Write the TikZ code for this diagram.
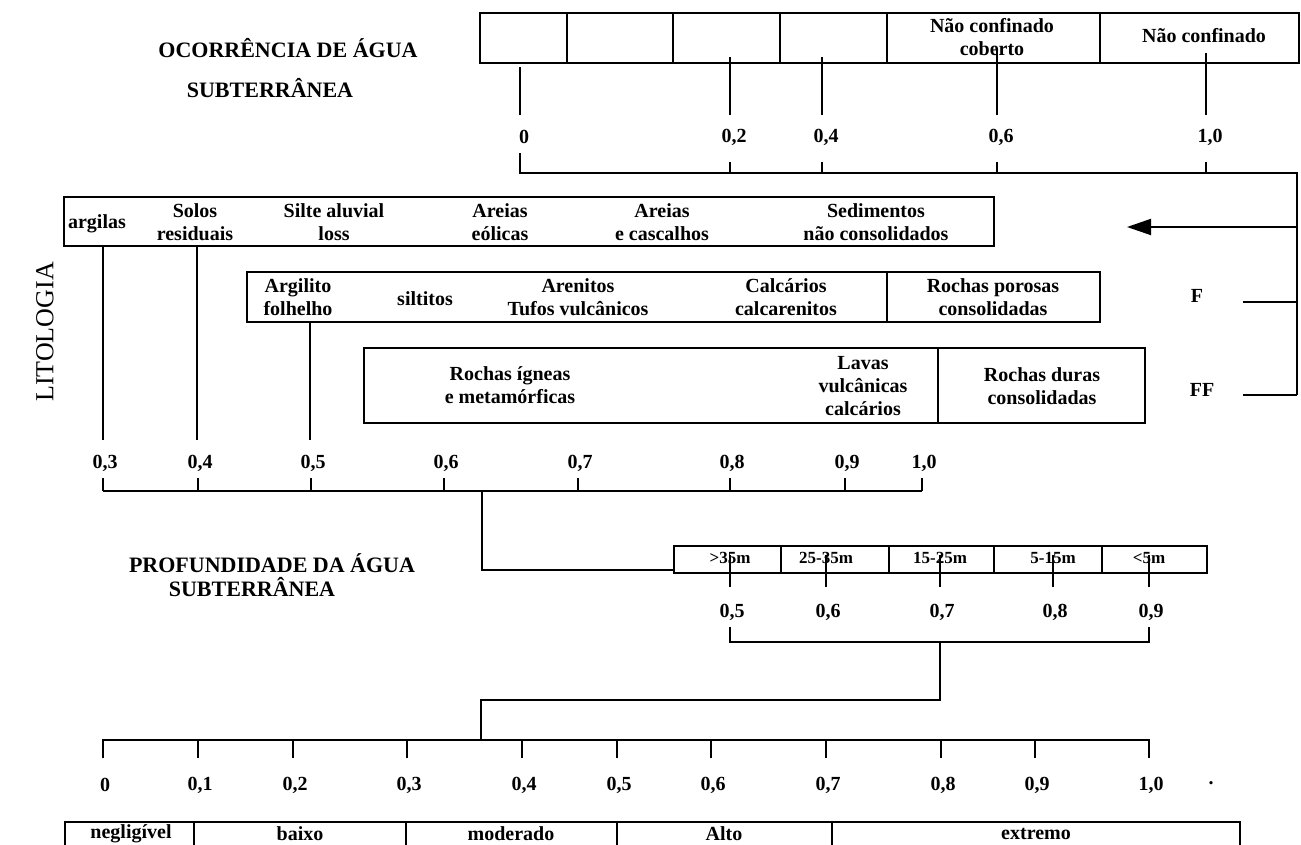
\documentclass[tikz,border=0pt]{standalone}
\usepackage{fontspec}
\setmainfont{Liberation Serif}
\usetikzlibrary{arrows.meta, positioning, calc}

\begin{document}
\begin{tikzpicture}[
    x=1pt, y=-1pt,
    >={Triangle[length=24pt, width=16pt]},
    lbl/.style={font=\fontsize{20}{23}\selectfont\bfseries, align=center, inner sep=0pt},
    tiny/.style={font=\fontsize{17}{19}\selectfont\bfseries, inner sep=0pt},
    headline/.style={font=\fontsize{22}{26}\selectfont\bfseries, inner sep=0pt},
    bar/.style={draw, line width=1.3pt, inner sep=0pt},
    rule/.style={line width=1.3pt},
    scl/.style={line width=1.9pt},
]
    \useasboundingbox (0,0) rectangle (1301,844);
    \clip (0,0) rectangle (1301,844);

    % Ocorrencia
    \node[headline] (occa) at (288,48) {OCORRÊNCIA DE ÁGUA};
    \node[headline] (occb) at (270,88) {SUBTERRÂNEA};
    \node[bar, minimum width=819pt, minimum height=50pt] (occbox) at (889.5,38) {};
    \foreach \x in {567,673,780,887,1100}
        \draw[rule] (\x,13) -- (\x,63);
    \node[lbl] (occnc) at (992,37) {Não confinado\\coberto};
    \node[lbl] (occn) at (1204,36) {Não confinado};
    \foreach \x/\t/\v in {520/67/0, 730/57/{0,2}, 822/57/{0,4}, 997/50/{0,6}, 1206/53/{1,0}} {
        \draw[scl] (\x,\t) -- (\x,115);
        \node[lbl] (occv\x) at (\x+4,137) {\v};
    }
    \draw[scl] (520,153) -- (520,173) -- (1297,173) -- (1297,395);
    \foreach \x in {730,822,997,1206}
        \draw[scl] (\x,162) -- (\x,173);

    % Right rail
    \coordinate (arrtip) at (1127,227);
    \draw[->, scl] (1297,227) -- (arrtip);
    \node[lbl] (fnode) at (1197,296) {F};
    \node[lbl] (ffnode) at (1202,390) {FF};
    \draw[scl] (1243,302) -- (1297,302);
    \draw[scl] (1243,395) -- (1297,395);

    % Litologia
    \node[font=\fontsize{26}{30}\selectfont, rotate=90, inner sep=0pt] (lito) at (45,332) {LITOLOGIA};

    \node[bar, minimum width=930pt, minimum height=49pt] (litoa) at (529,221.5) {};
    \node[lbl] (argilas) at (97,224) {argilas};
    \node[lbl] (solos) at (195,222) {Solos\\residuais};
    \node[lbl] (silte) at (334,222) {Silte aluvial\\loss};
    \node[lbl] (eolicas) at (500,222) {Areias\\eólicas};
    \node[lbl] (cascalhos) at (662,222) {Areias\\e cascalhos};
    \node[lbl] (sedim) at (876,222) {Sedimentos\\não consolidados};

    \node[bar, minimum width=853pt, minimum height=50pt] (litob) at (673.5,297) {};
    \draw[rule] (887,272) -- (887,322);
    \node[lbl] (argilito) at (298,297) {Argilito\\folhelho};
    \node[lbl] (siltitos) at (425,299) {siltitos};
    \node[lbl] (arenitos) at (578,297) {Arenitos\\Tufos vulcânicos};
    \node[lbl] (calcarios) at (786,297) {Calcários\\calcarenitos};
    \node[lbl] (porosas) at (993,297) {Rochas porosas\\consolidadas};

    \node[bar, minimum width=781pt, minimum height=75pt] (litoc) at (754.5,385.5) {};
    \draw[rule] (938,348) -- (938,423);
    \node[lbl] (igneas) at (510,385) {Rochas ígneas\\e metamórficas};
    \node[lbl] (lavas) at (863,386) {Lavas\\vulcânicas\\calcários};
    \node[lbl] (duras) at (1042,386) {Rochas duras\\consolidadas};

    \draw[scl] (103,246) -- (103,440);
    \draw[scl] (197,246) -- (197,440);
    \draw[scl] (310,322) -- (310,440);
    \foreach \x/\v in {103/{0,3}, 198/{0,4}, 311/{0,5}, 444/{0,6}, 578/{0,7}, 730/{0,8}, 845/{0,9}, 922/{1,0}} {
        \node[lbl] (litv\x) at (\x+2,463) {\v};
        \draw[scl] (\x,478) -- (\x,491);
    }
    \draw[scl] (103,491) -- (922,491);

    % Profundidade
    \node[headline] (profa) at (272,563) {PROFUNDIDADE DA ÁGUA};
    \node[headline] (profb) at (252,587) {SUBTERRÂNEA};
    \node[bar, minimum width=533pt, minimum height=27pt] (depth) at (940.5,559.5) {};
    \foreach \x in {781,889,994,1102}
        \draw[rule] (\x,546) -- (\x,573);
    \draw[scl] (482,491) -- (482,570) -- (674,570);
    \foreach \x/\r/\v in {730/{>35m}/{0,5}, 826/{25-35m}/{0,6}, 940/{15-25m}/{0,7}, 1053/{5-15m}/{0,8}, 1149/{<5m}/{0,9}} {
        \node[tiny] (dpr\x) at (\x,558) {\r};
        \draw[scl] (\x,555) -- (\x,587);
        \node[lbl] (dpv\x) at (\x+2,612) {\v};
    }
    \draw[scl] (730,627) -- (730,642) -- (1149,642) -- (1149,627);
    \draw[scl] (940,642) -- (940,700) -- (481,700) -- (481,740);

    % Escala final
    \draw[scl] (103,758) -- (103,740) -- (1149,740) -- (1149,758);
    \foreach \x/\v in {103/0, 198/{0,1}, 293/{0,2}, 407/{0,3}, 522/{0,4}, 617/{0,5}, 711/{0,6}, 826/{0,7}, 941/{0,8}, 1035/{0,9}, 1149/{1,0}} {
        \draw[scl] (\x,740) -- (\x,758);
        \node[lbl] (fin\x) at (\x+2,785) {\v};
    }
    \node[lbl] (dot) at (1211,783) {.};

    \node[bar, minimum width=1175pt, minimum height=44pt] (risk) at (652.5,844) {};
    \foreach \x in {194,406,617,832}
        \draw[rule] (\x,822) -- (\x,866);
    \node[lbl] (negl) at (131,834) {negligível};
    \node[lbl] (baixo) at (300,834) {baixo};
    \node[lbl] (moder) at (511,834) {moderado};
    \node[lbl] (alto) at (724,834) {Alto};
    \node[lbl] (extremo) at (1036,834) {extremo};
\end{tikzpicture}
\end{document}
